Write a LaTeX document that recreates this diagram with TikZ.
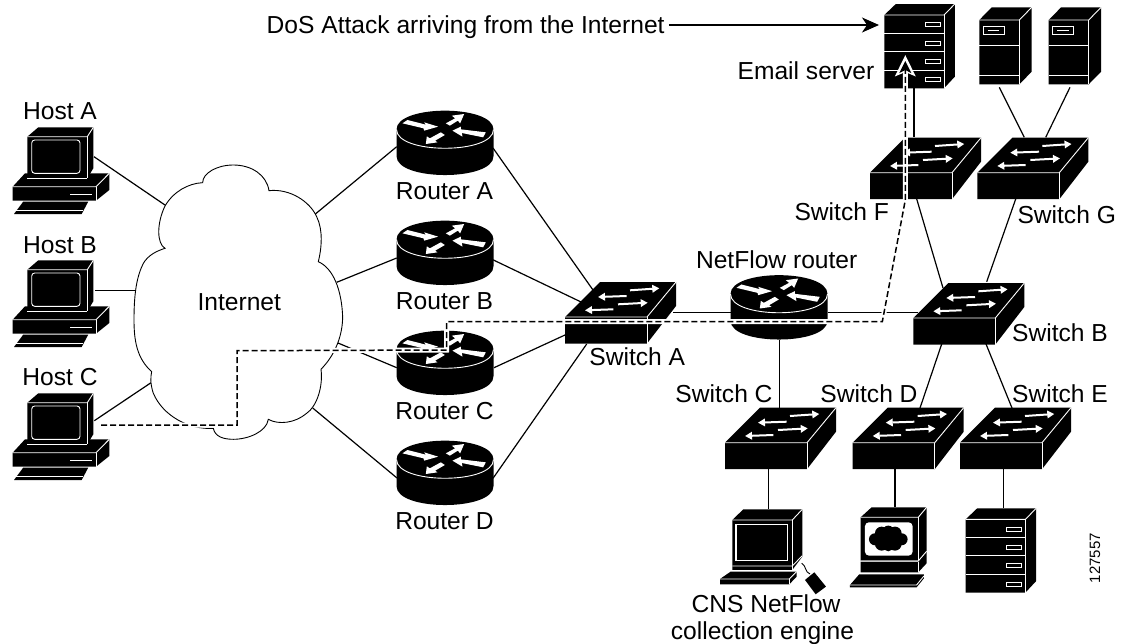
\documentclass[tikz,border=0pt]{standalone}
\usepackage{fontspec}
\setmainfont{Liberation Sans}
\usetikzlibrary{arrows.meta,calc}
\tikzset{
  x=1pt,y=-1pt,
  lbl/.style={inner sep=0pt,font=\fontsize{24.6}{29}\selectfont,text height=18pt,text depth=0pt},
  rtrnode/.style={inner sep=0pt,minimum width=97pt,minimum height=65pt},
  swnode/.style={inner sep=0pt,minimum width=111pt,minimum height=61.5pt},
  srvnode/.style={inner sep=0pt,minimum width=70.5pt,minimum height=84pt},
  twrnode/.style={inner sep=0pt,minimum width=52.4pt,minimum height=77pt},
  pcnode/.style={inner sep=0pt,minimum width=96.6pt,minimum height=86.7pt},
  cnsnode/.style={inner sep=0pt,minimum width=106pt,minimum height=85pt},
  pcbnode/.style={inner sep=0pt,minimum width=77pt,minimum height=80pt},
  link/.style={draw=black,line width=1.2pt},
  wl/.style={draw=white,line width=.9pt},
  swa/.style={draw=white,line width=2pt,-{Triangle[length=7pt,width=7.5pt]}},
  routericon/.pic={
    \fill[black] (-48.5,-13.5) -- (-48.5,13.2) .. controls (-48.5,38.3) and (48.5,38.3) .. (48.5,13.2) -- (48.5,-13.5)
      .. controls (48.5,-38.6) and (-48.5,-38.6) .. (-48.5,-13.5) -- cycle;
    \draw[wl] (-48.5,-13.5) .. controls (-48.5,11.5) and (48.5,11.5) .. (48.5,-13.5);
    \begin{scope}[shift={(-99.17,-117.33)}]
      \begin{scope}[x=.3333pt,y=-.3333pt]
        \fill[white] (170,293) -- (185,283) -- (240,297) -- (235,290) -- (277,303) -- (235,315) -- (233,308) -- cycle;
        \fill[white] (240,355) -- (243,332) -- (252,338) -- (285,320) -- (297,328) -- (268,345) -- (275,350) -- cycle;
        \fill[white] (355,265) -- (318,270) -- (328,278) -- (300,293) -- (312,300) -- (336,285) -- (343,293) -- cycle;
        \fill[white] (320,315) -- (345,303) -- (345,311) -- (420,320) -- (412,335) -- (348,322) -- (350,333) -- cycle;
      \end{scope}
    \end{scope}
  },
  switchicon/.pic={
    \begin{scope}[shift={(-55.5,4.25)}]
      \fill[black] (0,0) -- (35,-35) -- (111,-35) -- (111,-11) -- (82,26.5) -- (0,26.5) -- cycle;
      \draw[wl] (0,0) -- (82,0) -- (111,-35);
      \draw[wl] (82,0) -- (82,26.5);
      \draw[swa] (65,-26.7) -- (94.3,-28.7);
      \draw[swa] (61.7,-21) -- (33,-20);
      \draw[swa] (53,-12.7) -- (82.7,-14.3);
      \draw[swa] (48.3,-7.7) -- (20,-6.7);
    \end{scope}
  },
  servericon/.pic={
    \begin{scope}[shift={(-35.25,-31)}]
      \fill[black] (0,0) -- (11.5,-11) -- (70.5,-11) -- (70.5,61.7) -- (59.7,73.3) -- (0,73.3) -- cycle;
      \draw[wl] (0,0) -- (59.7,0) -- (70.5,-11);
      \draw[wl] (59.7,0) -- (59.7,73.3);
      \foreach \k in {18.3,36.6,55}{\draw[wl] (0,\k) -- (59.7,\k);}
      \foreach \k in {0,18.3,36.6,55}{\draw[wl] (40.7,7.7+\k) rectangle (55.7,11.7+\k);}
    \end{scope}
  },
  towericon/.pic={
    \begin{scope}[shift={(-26.2,-25.8)}]
      \fill[black] (0,0) -- (12.4,-12.7) -- (52.4,-12.7) -- (52.4,51.7) -- (40,64.3) -- (0,64.3) -- cycle;
      \draw[wl] (0,0) -- (40,0) -- (52.4,-12.7);
      \draw[wl] (40,0) -- (40,64.3);
      \draw[wl] (0,25) -- (40,25);
      \draw[wl] (0,55.7) -- (40,55.7);
      \draw[wl] (4,6) rectangle (25,14);
      \draw[wl] (8.5,10) -- (20,10);
    \end{scope}
  },
  hosticon/.pic={
    \begin{scope}[shift={(-33.7,-34)}]
      \fill[black] (-2.3,36.6) -- (82,36.6) -- (82,53.3) -- (68.7,64) -- (-14.6,64) -- (-14.6,50) -- cycle;
      \draw[wl] (-14.6,50) -- (68.7,50) -- (82,36.6);
      \draw[wl] (68.7,50) -- (68.7,64);
      \draw[draw=white,line width=1.2pt] (42.7,57.6) -- (64.4,57.6);
      \fill[black] (-4,64.8) -- (61,64.8) -- (54.4,77.3) -- (-13.3,77.3) -- cycle;
      \draw[wl] (-13.3,74.2) -- (55.5,74.2);
      \fill[black] (0,0) -- (11,-9.4) -- (66,-9.4) -- (66,31.6) -- (60,41.6) -- (0,41.6) -- cycle;
      \draw[wl] (0,0) -- (60,0) -- (66,-9.4);
      \draw[wl] (60,0) -- (60,41.6);
      \draw[wl] (0,41.6) -- (60,41.6);
      \draw[wl,rounded corners=3pt] (4.4,3.3) rectangle (52.7,36.6);
    \end{scope}
  },
  cnsicon/.pic={
    \begin{scope}[shift={(-73,-161.83)}]
      \begin{scope}[x=.3333pt,y=-.3333pt]
        \fill[black] (97,390) -- (130,358) -- (307,358) -- (307,500) -- (277,540) -- (97,540) -- cycle;
        \draw[wl] (97,390) -- (277,390) -- (307,358);
        \draw[wl] (277,390) -- (277,540);
        \draw[wl] (97,528) -- (277,528) -- (307,497);
        \draw[draw=white,line width=1.1pt] (108,403) rectangle (262,512);
        \fill[black] (60,567) -- (92,545) -- (290,545) -- (290,560) -- (268,583) -- (60,583) -- cycle;
        \draw[wl] (60,567) -- (268,567) -- (290,545);
        \draw[wl] (268,567) -- (268,583);
        \draw[black,line width=.9pt] (305,520) .. controls (318,525) and (315,548) .. (330,552);
        \fill[black] (343,547) -- (378,590) -- (347,613) -- (315,570) -- cycle;
      \end{scope}
    \end{scope}
  },
  pcbicon/.pic={
    \begin{scope}[shift={(-188.33,-157.33)}]
      \begin{scope}[x=.3333pt,y=-.3333pt]
        \fill[black] (482,382) -- (515,352) -- (680,352) -- (680,485) -- (655,512) -- (482,512) -- cycle;
        \draw[wl] (482,382) -- (655,382) -- (680,352);
        \draw[wl] (655,382) -- (655,512);
        \fill[white,rounded corners=4pt] (495,397) rectangle (638,497);
        \fill[black] (565,447) ellipse [x radius=50,y radius=25];
        \foreach \a/\b/\c in {525/448/18,605/448/18,545/430/20,585/430/20,545/462/20,585/462/20,565/425/18,565/468/16}{\fill[black] (\a,\b) circle [radius=\c];}
        \fill[black] (482,515) -- (655,515) -- (680,485) -- (680,520) -- (655,547) -- (482,547) -- cycle;
        \draw[wl] (655,515) -- (655,547);
        \draw[wl] (482,513) -- (655,513) -- (680,484);
        \fill[black] (478,553) -- (672,553) -- (672,565) -- (650,592) -- (450,592) -- (450,585) -- cycle;
        \draw[wl] (450,585) -- (650,585) -- (672,558);
      \end{scope}
    \end{scope}
  }
}
\begin{document}
\begin{tikzpicture}
\useasboundingbox (0,0) rectangle (1124,643);
% device nodes
\node[pcnode] (ha) at (61,170.7) {};
\node[pcnode] (hb) at (61,303.7) {};
\node[pcnode] (hc) at (61,436.7) {};
\node[inner sep=0pt,minimum width=209pt,minimum height=274pt] (cl) at (238.5,302) {};
\node[rtrnode] (ra) at (445,143) {};
\node[rtrnode] (rb) at (445,253) {};
\node[rtrnode] (rc) at (445,363) {};
\node[rtrnode] (rd) at (445,473) {};
\node[rtrnode] (nf) at (779,307.5) {};
\node[swnode] (sa) at (620.5,312.75) {};
\node[swnode] (sb) at (968.8,313.75) {};
\node[swnode] (sc) at (780.5,438.45) {};
\node[swnode] (sd) at (908.2,438.45) {};
\node[swnode] (se) at (1015.5,438.45) {};
\node[swnode] (sf) at (925.5,168.45) {};
\node[swnode] (sg) at (1032.8,168.45) {};
\node[srvnode] (es) at (919.55,46) {};
\node[srvnode] (srv) at (1000.95,550.3) {};
\node[twrnode] (ta) at (1005.5,45.8) {};
\node[twrnode] (tb) at (1074.9,45.8) {};
\node[cnsnode] (cns) at (773,551.8) {};
\node[pcbnode] (pcb) at (888.3,547.3) {};
\node[lbl,anchor=west] (dos) at (266.5,24.5) {DoS Attack arriving from the Internet};
% connectors
\draw[link] ([shift={(33,-14)}]ha.center) -- ([shift={(-72.5,-96.3)}]cl.center);
\draw[link] ([shift={(34,-13)}]hb.center) -- ([shift={(-100,-11.3)}]cl.center);
\draw[link] ([shift={(33.3,-16)}]hc.center) -- ([shift={(-87.5,80.7)}]cl.center);
\draw[link] ([shift={(-48.3,3.7)}]ra.center) -- ([shift={(76.5,-87.7)}]cl.center);
\draw[link] ([shift={(-48.3,5)}]rb.center) -- ([shift={(98.2,-19.7)}]cl.center);
\draw[link] ([shift={(-48.3,4.7)}]rc.center) -- ([shift={(99.5,41)}]cl.center);
\draw[link] ([shift={(-48,5)}]rd.center) -- ([shift={(74.2,106)}]cl.center);
\draw[link] ([shift={(48,5)}]ra.center) -- ([shift={(-27.5,-22.75)}]sa.center);
\draw[link] ([shift={(48,6.8)}]rb.center) -- ([shift={(-38.8,-10.45)}]sa.center);
\draw[link] ([shift={(49,4.7)}]rc.center) -- ([shift={(-55.5,22.25)}]sa.center);
\draw[link] ([shift={(48,5.3)}]rd.center) -- ([shift={(-33.8,31.25)}]sa.center);
\draw[link] ([shift={(52.5,-0.45)}]sa.center) -- ([shift={(-48,4.8)}]nf.center);
\draw[link] ([shift={(49,4.8)}]nf.center) -- ([shift={(-50.8,-1.45)}]sb.center);
\draw[link] ([shift={(0.3,32.5)}]nf.center) -- ([shift={(-1.2,-29.45)}]sc.center);
\draw[link] ([shift={(-27.1,30.25)}]sb.center) -- ([shift={(11.8,-30.45)}]sd.center);
\draw[link] ([shift={(17.2,30.25)}]sb.center) -- ([shift={(-3.5,-30.45)}]se.center);
\draw[link] ([shift={(-8.8,30.55)}]sf.center) -- ([shift={(-25.8,-25.75)}]sb.center);
\draw[link] ([shift={(-17.1,30.55)}]sg.center) -- ([shift={(17.9,-32.05)}]sb.center);
\draw[link] ([shift={(-5.55,42.3)}]es.center) -- ([shift={(-11.5,-31.45)}]sf.center);
\draw[link] ([shift={(-6.2,41.5)}]ta.center) -- ([shift={(-8.5,-31.15)}]sg.center);
\draw[link] ([shift={(-4.9,41.5)}]tb.center) -- ([shift={(12.9,-31.15)}]sg.center);
\draw[link] ([shift={(-11.8,30.55)}]sc.center) -- ([shift={(-4.3,-42.5)}]cns.center);
\draw[link] ([shift={(-13.2,30.55)}]sd.center) -- ([shift={(6.7,-40)}]pcb.center);
\draw[link] ([shift={(-12.2,30.55)}]se.center) -- ([shift={(2.35,-42)}]srv.center);
\draw[link,-{Stealth[length=17pt,width=15pt,inset=5pt]}] ([shift={(4,.5)}]dos.east) -- ([shift={(-40.55,-21)}]es.center);
% cloud
\begin{scope}[shift={(120,120)}]
\begin{scope}[x=.3333pt,y=-.3333pt]
\filldraw[fill=white,draw=black,line width=.9pt] (135,385)
 .. controls (110,370) and (110,310) .. (135,258)
 .. controls (160,215) and (205,190) .. (248,188)
 .. controls (248,160) and (290,135) .. (340,135)
 .. controls (395,135) and (440,165) .. (447,212)
 .. controls (510,205) and (570,245) .. (590,290)
 .. controls (610,330) and (605,385) .. (595,425)
 .. controls (640,445) and (665,510) .. (668,590)
 .. controls (668,640) and (650,700) .. (603,748)
 .. controls (610,800) and (590,860) .. (560,880)
 .. controls (525,910) and (475,915) .. (445,898)
 .. controls (440,935) and (385,958) .. (340,958)
 .. controls (310,958) and (285,950) .. (280,925)
 .. controls (210,930) and (130,890) .. (100,820)
 .. controls (90,790) and (92,770) .. (95,755)
 .. controls (50,715) and (42,660) .. (42,600)
 .. controls (42,520) and (50,470) .. (70,430)
 .. controls (85,405) and (110,393) .. (135,385) -- cycle;
\end{scope}
\end{scope}
% icons
\pic at (ha.center) {hosticon};
\pic at (hb.center) {hosticon};
\pic at (hc.center) {hosticon};
\pic at (ra.center) {routericon};
\pic at (rb.center) {routericon};
\pic at (rc.center) {routericon};
\pic at (rd.center) {routericon};
\pic at (nf.center) {routericon};
\pic at (sa.center) {switchicon};
\pic at (sb.center) {switchicon};
\pic at (sc.center) {switchicon};
\pic at (sd.center) {switchicon};
\pic at (se.center) {switchicon};
\pic at (sf.center) {switchicon};
\pic at (sg.center) {switchicon};
\pic at (es.center) {servericon};
\pic at (srv.center) {servericon};
\pic at (ta.center) {towericon};
\pic at (tb.center) {towericon};
\pic at (cns.center) {cnsicon};
\pic at (pcb.center) {pcbicon};
% labels
\node[lbl] (lha) at (60,110) {Host A};
\node[lbl] (lhb) at (60,244) {Host B};
\node[lbl] (lhc) at (60,376.7) {Host C};
\node[lbl] (inet) at (239.3,301.7) {Internet};
\node[lbl] (lra) at (444.5,190) {Router A};
\node[lbl] (lrb) at (444.5,300.7) {Router B};
\node[lbl] (lrc) at (444.5,410) {Router C};
\node[lbl] (lrd) at (444.5,520) {Router D};
\node[lbl] (lnf) at (776.7,259.3) {NetFlow router};
\node[lbl] (lsa) at (637.3,356.7) {Switch A};
\node[lbl] (lsb) at (1060,332.3) {Switch B};
\node[lbl] (lsc) at (724,393.3) {Switch C};
\node[lbl] (lsd) at (869,393.3) {Switch D};
\node[lbl] (lse) at (1060,393.3) {Switch E};
\node[lbl] (lsf) at (841.7,211.7) {Switch F};
\node[lbl] (lsg) at (1066.7,214) {Switch G};
\node[lbl] (lem) at (806,70.7) {Email server};
\node[lbl] (lcns) at (766,603) {CNS NetFlow};
\node[lbl] (lcol) at (762.5,630) {collection engine};
\node[inner sep=0pt,font=\fontsize{15}{18}\selectfont,rotate=90] (num) at (1095,558) {127557};
% attack path
\draw[white,line width=5pt,-{Stealth[length=21pt,width=20pt,inset=4pt]}]
  ([shift={(40,-11.7)}]hc.center) -- (237,425) -- (237,350.7) -- (446.7,350) -- (446.7,321.7) -- (882.3,321.7) -- (905.3,200) -- ([shift={(-14.25,9)}]es.center);
\draw[black,line width=1.5pt,dash pattern=on 6pt off 3pt,-{Stealth[length=12pt,width=12pt,inset=3pt]}]
  ([shift={(40,-11.7)}]hc.center) -- (237,425) -- (237,350.7) -- (446.7,350) -- (446.7,321.7) -- (882.3,321.7) -- (905.3,200) -- ([shift={(-14.25,15)}]es.center);
\end{tikzpicture}
\end{document}
